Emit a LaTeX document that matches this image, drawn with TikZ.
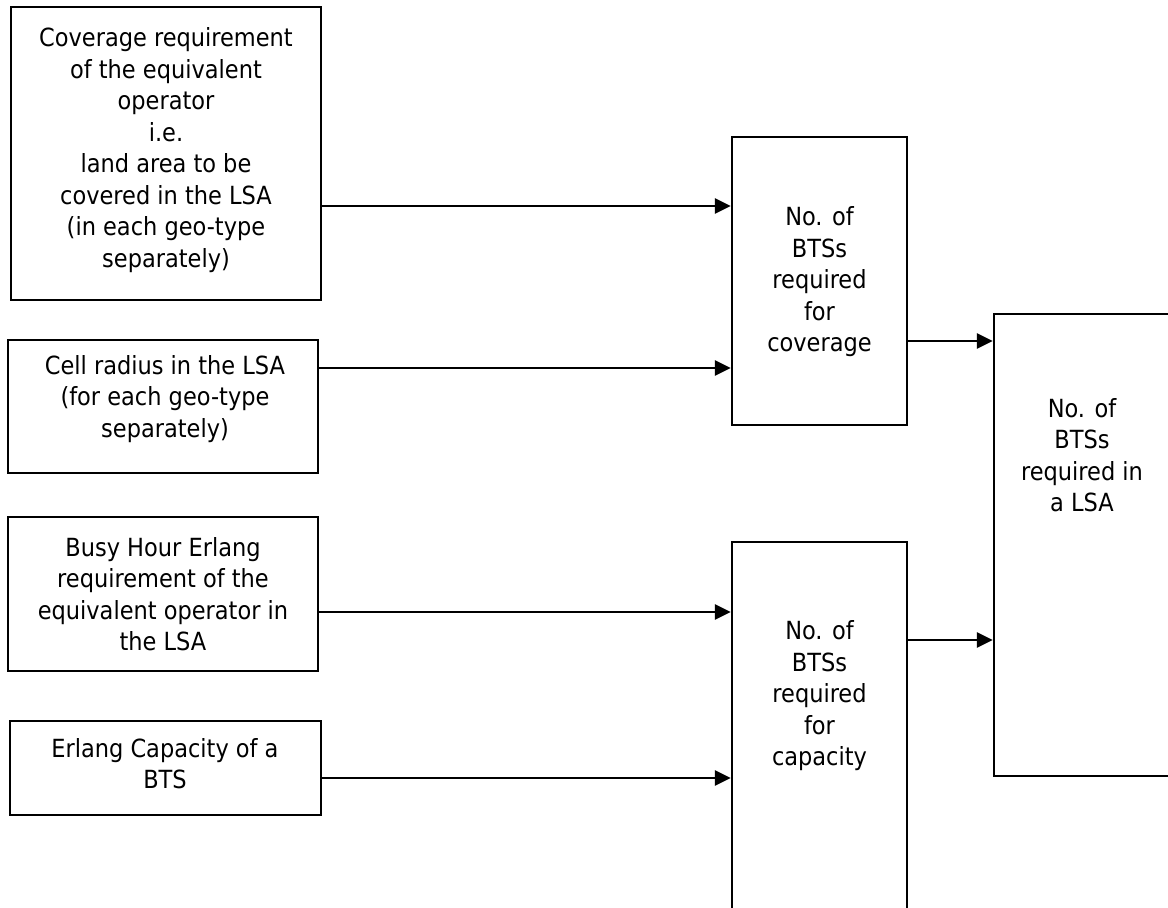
\documentclass[tikz,border=0pt]{standalone}
\usepackage{fontspec}
\setmainfont{DejaVu Sans Condensed}
\usetikzlibrary{arrows.meta}
\tikzset{
  box/.style={draw=black, line width=2.3pt, inner sep=0pt, fill=none},
  txt/.style={align=center, inner sep=0pt, font=\fontsize{25}{31.5}\selectfont},
  arr/.style={line width=2.8pt, -{Triangle[length=16pt,width=15pt]}}
}
\begin{document}
\begin{tikzpicture}[x=1pt,y=-1pt]
\useasboundingbox (0,0) rectangle (1168,908);
\clip (0,0) rectangle (1168,908);
\fill[white] (0,0) rectangle (1168,908);
% boxes
\node[box, minimum width=310pt, minimum height=293pt] (A) at (166,153.5) {};
\node[box, minimum width=310pt, minimum height=133pt] (B) at (163,406.5) {};
\node[box, minimum width=310pt, minimum height=154pt] (C) at (163,594) {};
\node[box, minimum width=311pt, minimum height=94pt] (D) at (165.5,768) {};
\node[box, minimum width=175pt, minimum height=288pt] (E) at (819.5,281) {};
\node[box, minimum width=175pt, minimum height=388pt] (F) at (819.5,736) {};
\node[box, minimum width=178pt, minimum height=462pt] (G) at (1083,545) {};
% texts
\node[txt] (At) at (166,150) {Coverage requirement\\of the equivalent\\operator\\i.e.\\land area to be\\covered in the LSA\\(in each geo-type\\separately)};
\node[txt] (Bt) at (165,399) {Cell radius in the LSA\\(for each geo-type\\separately)};
\node[txt] (Ct) at (163,594) {Busy Hour Erlang\\requirement of the\\equivalent operator in\\the LSA};
\node[txt] (Dt) at (165,763.5) {Erlang Capacity of a\\BTS};
\node[txt] (Et) at (819.5,282) {No. of\\BTSs\\required\\for\\coverage};
\node[txt] (Ft) at (819.5,696) {No. of\\BTSs\\required\\for\\capacity};
\node[txt] (Gt) at (1082,455) {No. of\\BTSs\\required in\\a LSA};
% connectors
\draw[arr] (A.east |- 0,206) -- (E.west |- 0,206);
\draw[arr] (B.east |- 0,368) -- (E.west |- 0,368);
\draw[arr] (C.east |- 0,612) -- (F.west |- 0,612);
\draw[arr] (D.east |- 0,778) -- (F.west |- 0,778);
\draw[arr] (E.east |- 0,341) -- (G.west |- 0,341);
\draw[arr] (F.east |- 0,640) -- (G.west |- 0,640);
\end{tikzpicture}
\end{document}
